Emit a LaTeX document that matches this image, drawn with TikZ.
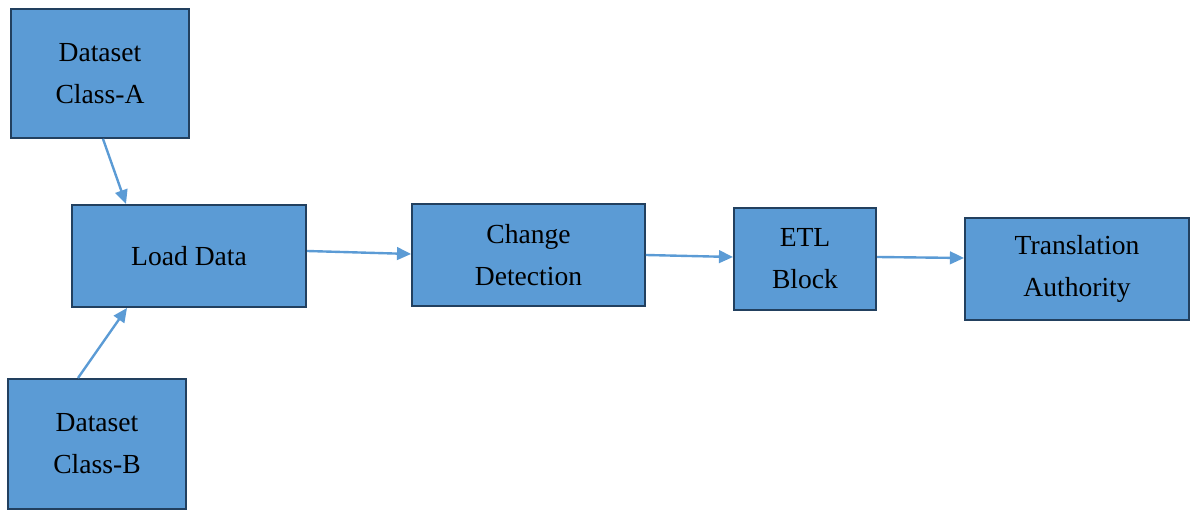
\documentclass[tikz,border=0pt]{standalone}
\usepackage{fontspec}
\setmainfont{Liberation Serif}
\usetikzlibrary{arrows.meta}
\definecolor{boxblue}{HTML}{5B9BD5}
\definecolor{boxedge}{HTML}{22405F}
\tikzset{
  block/.style={draw=boxedge, line width=1.4pt, fill=boxblue, align=center,
    inner sep=0pt, font=\fontsize{19.6}{29.8}\selectfont},
  flow/.style={draw=boxblue, line width=1.7pt, -{Triangle[length=10pt,width=9pt]}}
}
\begin{document}
\begin{tikzpicture}[x=0.025cm, y=-0.025cm]
          \useasboundingbox (0,0) rectangle (1190,510);

          \node (dsa)   [block, minimum width=4.45cm, minimum height=3.22cm] at (100,73.5) {Dataset\\Class-A};
          \node (load)  [block, minimum width=5.85cm, minimum height=2.55cm] at (189,256)  {Load Data};
          \node (dsb)   [block, minimum width=4.45cm, minimum height=3.25cm] at (97,444)   {Dataset\\Class-B};
          \node (chg)   [block, minimum width=5.82cm, minimum height=2.55cm] at (528.5,255) {Change\\Detection};
          \node (etl)   [block, minimum width=3.55cm, minimum height=2.55cm] at (805,259)  {ETL\\Block};
          \node (trans) [block, minimum width=5.6cm,  minimum height=2.55cm] at (1077,269) {Translation\\Authority};

          \draw [flow] ([xshift=0.075cm]dsa.south)  to ([xshift=-1.575cm]load.north);
          \draw [flow] ([xshift=-0.475cm]dsb.north) to ([xshift=-1.55cm]load.south);
          \draw [flow] ([yshift=0.125cm]load.east)  to ([yshift=0.025cm]chg.west);
          \draw [flow] (chg.east)                   to ([yshift=0.05cm]etl.west);
          \draw [flow] ([yshift=0.05cm]etl.east)    to ([yshift=0.275cm]trans.west);
        \end{tikzpicture}
\end{document}
